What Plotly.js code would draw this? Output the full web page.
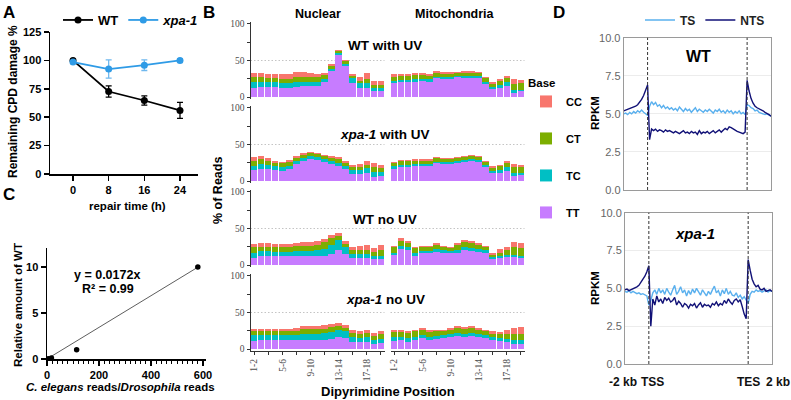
<!DOCTYPE html>
<html><head><meta charset="utf-8">
<script src="https://cdn.plot.ly/plotly-3.0.1.min.js"></script>
<style>html,body{margin:0;padding:0;background:#fff}#chart{width:791px;height:400px}</style>
</head><body><div id="chart"></div>
<script>
// ---------- Panel A data ----------
const repairTime = [0, 8, 16, 24];
const wtDamage = [100, 72.6, 64.7, 56];
const wtErr = [1, 5, 4, 7];
const xpaDamage = [98.5, 92.4, 95.8, 100];
const xpaErr = [1, 8, 4.7, 1.5];

// ---------- Panel C data ----------
const readRatio = [5, 17, 114, 580];
const relAmount = [0.02, 0.12, 1.0, 10.0];
const fitLineX = [0, 580];
const fitLineY = [0, 9.98];

// ---------- Panel B data ----------
const positions = ['1-2','2-3','3-4','4-5','5-6','6-7','7-8','8-9','9-10','10-11','11-12','12-13','13-14','14-15','15-16','16-17','17-18','18-19','19-20'];
const positionTickText = ['1-2','','5-6','','9-10','','13-14','','17-18',''];
const positionTickVals = ['1-2','3-4','5-6','7-8','9-10','11-12','13-14','15-16','17-18','19-20'];
const bases = ['TT','TC','CT','CC'];
const baseColors = {TT:'#C77CFF', TC:'#00BFC4', CT:'#7CAE00', CC:'#F8766D'};

const wtUV_nuc_TT = [13,14,14,14,13,13,14,15,15,15,21,35,57,42,19,13,13,8,8];
const wtUV_nuc_TC = [7,6,6,6,6,6,6,6,6,6,4,3,3,3,7,6,6,5,4];
const wtUV_nuc_CT = [7,7,6,6,6,6,7,7,6,6,5,5,3,4,3,3,6,4,5];
const wtUV_nuc_CC = [6,6.5,5.5,5,6,6,7,6,5.5,4.5,3.5,2,1.5,2,2.5,6,8,5.5,5];

const wtUV_mt_TT = [19,20,20,21,22,21,26,25,25,27,26,26,26,18,11,12,15,6,8];
const wtUV_mt_TC = [3,3,3,3,3,3,2,3,3,2,3,3,3,3,3,5,5,3,2];
const wtUV_mt_CT = [6,6,6,6,5,5,5,4,4,4,4,4,4,5,4,5,6,9,9];
const wtUV_mt_CC = [3,2.5,3,2.5,2.5,2.5,2,2,2,1.5,2,2,1.5,1.5,2,2.5,3,6,4];

const xpaUV_nuc_TT = [15,17,17,15,14,16,23,28,30,29,26,23,20,16,10,10,11,6,7];
const xpaUV_nuc_TC = [6,6,5,5,5,5,4,4,4,4,4,4,5,5,5,5,7,6,5];
const xpaUV_nuc_CT = [7,7,6,5,5,5,5,4,4,3.5,4,4,5,4,4,4,4,7,6];
const xpaUV_nuc_CC = [4.5,4,3,3,2.5,3,2.5,2.5,2,2,2,3,2.5,3,3.5,4.5,6,6,4];

const xpaUV_mt_TT = [17,19,19,20,20,21,24,23,23,24,26,27,26,19,11,11,14,7,8];
const xpaUV_mt_TC = [3,3,3,3,3,2.5,2.5,2.5,2.5,3,3,3,3,3,3,4,5,4,3];
const xpaUV_mt_CT = [5,5,5,5,4.5,4.5,4.5,4.5,4.5,4,4,4,4,4,4,5,5,8,8];
const xpaUV_mt_CC = [1.5,2,2,1.5,2,1.5,1.5,1.5,1.5,1.5,1,1,1,1,2,2,3,4.5,3];

const wtNo_nuc_TT = [10,12,12,12,12,12,12,12,12,12,12,15,20,15,9,9,9,8,8];
const wtNo_nuc_TC = [7,7,7,6.5,6.5,6.5,7,7,7.5,8,10,13,14,9,6,6,6,5,5];
const wtNo_nuc_CT = [7,6,6,6,6,6,6.5,7,7,8,9,9,6,5,5,5,6,5,8];
const wtNo_nuc_CC = [5,5.5,4.5,4,4,4,5,5,5.5,5.5,4.5,4,4.5,4,5,6.5,7,5.5,6.5];

const wtNo_mt_TT = [14,22,20,13,16,16,18,17,16,17,20,19,18,17,8,9,11,11,10];
const wtNo_mt_TC = [3,4,4,4,3,3,4,3,3,3,4,4,4,3,3,4,3,3,3];
const wtNo_mt_CT = [7,7,6,6,5,5,6,4,4,7,7,7,6,4,3,3,7,11,10];
const wtNo_mt_CC = [2,3.5,3,2,2,2,2.5,2,2,2.5,3,3,2.5,2,3,6.5,3,7,6.5];

const xpaNo_nuc_TT = [11,12,12,12,12,12,12,13,13,13,13,14,16,15,10,9,9,7,8];
const xpaNo_nuc_TC = [8,7,7,7,7,7,7,7,8,8,9,9,10,9,7,6,7,6,6];
const xpaNo_nuc_CT = [6,6,6,6,5.5,5,6,7,6,6,6,7,6,5,5,5,6,5,6];
const xpaNo_nuc_CC = [3,3,3,3,3.5,3,3.5,4,4,4,4.5,4,3.5,3.5,3.5,4,4.5,4,4];

const xpaNo_mt_TT = [11,12,10,12,15,13,14,15,16,18,17,18,17,15,12,11,9,7,7];
const xpaNo_mt_TC = [5,4,5,5,4,4,4,4,4,4,4,4,4,4,4,4,5,5,5];
const xpaNo_mt_CT = [7,7,7,7,7,6,6,5,6,7,6,7,5,5,5,5,7,9,9];
const xpaNo_mt_CC = [2.5,2.5,2.5,2.5,3,2.5,2.5,2.5,2.5,2.5,3,2.5,2.5,2.5,3,3,5,8,9];

const rowLabels = ['<b>WT with UV</b>', '<b><i>xpa-1</i> with UV</b>', '<b>WT no UV</b>', '<b><i>xpa-1</i> no UV</b>'];

// ---------- Panel D data (metagene bins: -2kb | TSS ... TES | +2kb) ----------
const metaTickVals = [0, 12, 62, 74];
const metaTickText = ['-2 kb', 'TSS', 'TES', '2 kb'];
const wtNTS = [5.2,5.25,5.3,5.3,5.35,5.4,5.5,5.6,5.75,5.95,6.2,6.55,6.9,
  3.3,4.0,3.9,4.0,3.85,3.95,3.9,3.8,3.95,3.85,
  3.9,3.8,3.75,3.85,3.8,3.7,3.8,3.9,3.75,3.8,
  3.7,3.85,3.75,3.8,3.65,3.9,3.7,3.8,3.75,3.85,
  3.7,3.8,3.9,3.75,3.85,3.95,3.8,3.9,4.05,3.95,
  4.15,4.1,4.0,3.9,3.85,3.8,3.75,3.7,3.8,
  7.2,
  6.5,6.0,5.7,5.5,5.4,5.35,5.25,5.2,5.1,5.05,4.95,4.85];
const wtTS = [5.0,5.05,4.95,5.1,5.0,5.15,5.05,5.2,5.1,5.25,5.1,5.0,4.9,
  5.5,5.8,5.6,5.75,5.5,5.6,5.4,5.55,5.35,5.45,
  5.3,5.4,5.25,5.35,5.2,5.45,5.3,5.15,5.35,5.2,
  5.3,5.1,5.25,5.4,5.15,5.3,5.2,5.1,5.25,5.15,
  5.3,5.2,5.05,5.25,5.15,5.3,5.1,5.2,5.05,5.25,
  5.1,5.2,5.0,5.15,5.05,5.2,5.0,5.1,4.95,
  5.6,
  5.55,5.4,5.35,5.2,5.25,5.1,5.05,5.0,4.95,5.0,4.9,4.85];
const xpaNTS = [4.9,4.95,4.85,4.9,5.0,5.05,5.1,5.2,5.4,5.6,5.8,6.1,6.5,
  2.5,4.3,3.9,4.5,4.1,4.3,4.0,4.4,4.2,4.35,
  4.1,4.2,4.4,3.9,4.15,4.0,3.75,4.0,3.9,3.7,
  3.95,3.85,4.0,3.7,3.9,4.05,3.75,3.95,3.85,3.9,
  3.75,4.0,3.9,4.1,3.85,4.0,3.9,4.2,4.0,4.3,
  4.1,3.95,4.2,4.3,4.1,4.25,3.8,3.3,3.0,
  6.9,
  6.2,5.6,5.3,5.1,5.2,4.95,4.9,5.0,4.8,4.85,4.9,4.8];
const xpaTS = [4.8,4.75,4.85,4.7,4.8,4.75,4.65,4.7,4.6,4.65,4.55,4.5,3.9,
  4.2,4.7,4.9,4.6,5.0,4.7,4.9,4.6,5.0,4.75,
  4.55,4.9,5.2,4.6,4.8,5.1,4.7,4.9,4.5,4.85,
  4.6,4.95,4.7,5.0,4.8,4.55,4.9,4.7,4.5,4.8,
  4.6,4.9,5.15,4.7,4.85,4.5,4.9,4.65,5.0,4.6,
  4.8,4.55,4.5,4.7,4.4,4.55,4.3,4.45,4.2,
  4.0,
  4.6,4.8,4.75,4.9,4.8,4.85,4.75,4.8,4.9,4.75,4.85,4.8];

// ---------- helpers ----------
const W = 791, H = 400;
const fx = p => p / W;
const fy = p => 1 - p / H;
const FONT = 'Liberation Sans, Arial, sans-serif';
const SERIF = 'Liberation Serif, Times New Roman, serif';
function ann(text, x, y, o) {
  o = o || {};
  return Object.assign({text, x: fx(x), y: fy(y), xref: 'paper', yref: 'paper',
    xanchor: 'center', yanchor: 'middle', showarrow: false,
    font: Object.assign({family: FONT, size: 12, color: '#000'}, o.font || {})},
    o.extra || {});
}

const traces = [];
const layout = {
  width: W, height: H, margin: {l: 0, r: 0, t: 0, b: 0},
  paper_bgcolor: '#fff', plot_bgcolor: 'rgba(0,0,0,0)',
  font: {family: FONT, color: '#000'},
  barmode: 'stack', bargap: 0.12, hovermode: false,
  annotations: [], shapes: []
};

// ---------- Panel A ----------
traces.push({type: 'scatter', mode: 'lines+markers', x: repairTime, y: wtDamage,
  name: '<b>WT</b>', legend: 'legend', xaxis: 'x', yaxis: 'y',
  line: {color: '#000', width: 1.8}, marker: {color: '#000', size: 7},
  error_y: {type: 'data', array: wtErr, color: '#000', thickness: 1.3, width: 3}});
traces.push({type: 'scatter', mode: 'lines+markers', x: repairTime, y: xpaDamage,
  name: '<b><i>xpa-1</i></b>', legend: 'legend', xaxis: 'x', yaxis: 'y',
  line: {color: '#2F9BE6', width: 1.8}, marker: {color: '#2F9BE6', size: 7},
  error_y: {type: 'data', array: xpaErr, color: '#6FB8EE', thickness: 1.3, width: 3}});
layout.xaxis = {domain: [fx(50), fx(198)], range: [-5.16, 28.04], tickvals: repairTime,
  ticks: 'outside', ticklen: 5, tickwidth: 1.5, tickcolor: '#000', showline: true, linewidth: 1.5,
  linecolor: '#000', showgrid: false, zeroline: false, anchor: 'y',
  tickfont: {size: 11, weight: 'bold', family: FONT}};
layout.yaxis = {domain: [fy(174), fy(32)], range: [0, 125], dtick: 25, tick0: 0,
  ticks: 'outside', ticklen: 5, tickwidth: 1.5, tickcolor: '#000', showline: true, linewidth: 1.5,
  linecolor: '#000', showgrid: false, zeroline: false, anchor: 'x',
  tickfont: {size: 11, weight: 'bold', family: FONT}};
layout.legend = {orientation: 'h', x: fx(58), y: fy(20), xanchor: 'left', yanchor: 'middle',
  font: {size: 13, family: FONT, color: '#000'}, bgcolor: 'rgba(0,0,0,0)', itemwidth: 30};
layout.annotations.push(ann('<b>Remaining CPD damage %</b>', 13, 102, {font: {size: 12}, extra: {textangle: -90}}));
layout.annotations.push(ann('<b>repair time (h)</b>', 127, 206, {font: {size: 11.5}}));

// ---------- Panel C ----------
traces.push({type: 'scatter', mode: 'lines', x: fitLineX, y: fitLineY, showlegend: false,
  xaxis: 'x2', yaxis: 'y2', line: {color: '#333', width: 0.8}});
traces.push({type: 'scatter', mode: 'markers', x: readRatio, y: relAmount, showlegend: false,
  xaxis: 'x2', yaxis: 'y2', marker: {color: '#000', size: 5.5}});
layout.xaxis2 = {domain: [fx(47), fx(205.6)], range: [0, 610], tick0: 0, dtick: 200,
  ticks: 'outside', ticklen: 5, tickwidth: 1.5, tickcolor: '#000', showline: true, linewidth: 1.5,
  linecolor: '#000', showgrid: false, zeroline: false, anchor: 'y2',
  minor: {dtick: 20, tick0: 0, ticks: 'outside', ticklen: 3, tickcolor: '#000', tickwidth: 1, showgrid: false},
  tickfont: {size: 11, weight: 'bold', family: FONT}};
layout.yaxis2 = {domain: [fy(359), fy(248)], range: [0, 12.07], tickvals: [0, 5, 10],
  ticks: 'outside', ticklen: 5, tickwidth: 1.5, tickcolor: '#000', showline: true, linewidth: 1.5,
  linecolor: '#000', showgrid: false, zeroline: false, anchor: 'x2',
  tickfont: {size: 11, weight: 'bold', family: FONT}};
layout.annotations.push(ann('<b>Relative amount of WT</b>', 18, 305, {font: {size: 11.5}, extra: {textangle: -90}}));
layout.annotations.push(ann('<i>C. elegans</i> reads/<i>Drosophila</i> reads', 120, 387, {font: {size: 11.5, weight: 'bold'}}));
layout.annotations.push(ann('<b>y = 0.0172x</b>', 107, 275, {font: {size: 12.5}}));
layout.annotations.push(ann('<b>R² = 0.99</b>', 108, 289, {font: {size: 12.5}}));

// ---------- Panel B ----------
const bData = [
  [{TT: wtUV_nuc_TT, TC: wtUV_nuc_TC, CT: wtUV_nuc_CT, CC: wtUV_nuc_CC}, {TT: wtUV_mt_TT, TC: wtUV_mt_TC, CT: wtUV_mt_CT, CC: wtUV_mt_CC}],
  [{TT: xpaUV_nuc_TT, TC: xpaUV_nuc_TC, CT: xpaUV_nuc_CT, CC: xpaUV_nuc_CC}, {TT: xpaUV_mt_TT, TC: xpaUV_mt_TC, CT: xpaUV_mt_CT, CC: xpaUV_mt_CC}],
  [{TT: wtNo_nuc_TT, TC: wtNo_nuc_TC, CT: wtNo_nuc_CT, CC: wtNo_nuc_CC}, {TT: wtNo_mt_TT, TC: wtNo_mt_TC, CT: wtNo_mt_CT, CC: wtNo_mt_CC}],
  [{TT: xpaNo_nuc_TT, TC: xpaNo_nuc_TC, CT: xpaNo_nuc_CT, CC: xpaNo_nuc_CC}, {TT: xpaNo_mt_TT, TC: xpaNo_mt_TC, CT: xpaNo_mt_CT, CC: xpaNo_mt_CC}]
];
const legendRank = {CC: 1, CT: 2, TC: 3, TT: 4};
const panelX = [[250.5, 384.5], [390.5, 524.5]];
for (let r = 0; r < 4; r++) {
  const top = 21.8 + 84 * r, bot = top + 77.4;
  for (let p = 0; p < 2; p++) {
    const n = 3 + r * 2 + p;
    const xa = 'x' + n, ya = 'y' + n;
    bases.forEach(b => {
      traces.push({type: 'bar', x: positions, y: bData[r][p][b], name: '<b>' + b + '</b>',
        legend: 'legend3', legendgroup: b, legendrank: legendRank[b],
        showlegend: (r === 0 && p === 0), xaxis: xa, yaxis: ya,
        marker: {color: baseColors[b], line: {width: 0}}});
    });
    const bottom = (r === 3);
    layout['xaxis' + n] = {domain: [fx(panelX[p][0]), fx(panelX[p][1])], type: 'category',
      categoryorder: 'array', categoryarray: positions, range: [-0.55, 18.55], anchor: ya,
      showgrid: false, zeroline: false, showline: bottom, linecolor: '#333', linewidth: 1,
      ticks: bottom ? 'outside' : '', ticklen: 3, tickcolor: '#333', showticklabels: bottom,
      tickvals: positionTickVals, ticktext: positionTickText, tickangle: -90,
      tickfont: {family: SERIF, size: 9.5, color: '#4d4d4d'}};
    layout['yaxis' + n] = {domain: [fy(bot), fy(top)], range: [-3, 103], anchor: xa,
      showgrid: false, zeroline: false,
      showline: p === 0, linecolor: '#333', linewidth: 1,
      ticks: p === 0 ? 'outside' : '', ticklen: 3, tickcolor: '#333', showticklabels: p === 0,
      tickvals: [0, 25, 50, 75, 100], ticktext: ['0', '', '50', '', '100'],
      tickfont: {family: SERIF, size: 9.5, color: '#4d4d4d'}};
    layout.shapes.push({type: 'line', xref: xa + ' domain', yref: ya, x0: 0, x1: 1, y0: 50, y1: 50,
      layer: 'below', line: {color: '#b5b5b5', width: 0.8, dash: '1.5px,2px'}});
  }
}
layout.legend3 = {x: fx(526), y: fy(72), xanchor: 'left', yanchor: 'top', traceorder: 'grouped',
  tracegroupgap: 18, title: {text: '<b>Base</b>', font: {size: 11.5, family: FONT}},
  font: {size: 11, family: FONT, color: '#000'}, bgcolor: 'rgba(0,0,0,0)', itemwidth: 30};
layout.annotations.push(ann('<b>Nuclear</b>', 318, 14, {font: {size: 12.5}}));
layout.annotations.push(ann('<b>Mitochondria</b>', 455, 14, {font: {size: 12.5}}));
const stripY = [45, 134, 219, 299];
rowLabels.forEach((t, i) => layout.annotations.push(ann(t, 385, stripY[i], {font: {size: 13.5}})));
layout.annotations.push(ann('<b>% of Reads</b>', 218, 190, {font: {size: 12.5}, extra: {textangle: -90}}));
layout.annotations.push(ann('<b>Dipyrimidine Position</b>', 388, 391, {font: {size: 13}}));

// ---------- Panel D ----------
const dPanels = [
  {n: 11, ts: wtTS, nts: wtNTS, xd: [623.7, 771], yd: [190, 37.7]},
  {n: 12, ts: xpaTS, nts: xpaNTS, xd: [625, 772], yd: [364, 212.7]}
];
dPanels.forEach((d, i) => {
  const xa = 'x' + d.n, ya = 'y' + d.n;
  traces.push({type: 'scatter', mode: 'lines', y: d.ts, name: '<b>TS</b>', legend: 'legend2',
    showlegend: i === 0, xaxis: xa, yaxis: ya, line: {color: '#5AB0EE', width: 1.4}});
  traces.push({type: 'scatter', mode: 'lines', y: d.nts, name: '<b>NTS</b>', legend: 'legend2',
    showlegend: i === 0, xaxis: xa, yaxis: ya, line: {color: '#111177', width: 1.4}});
  layout['xaxis' + d.n] = {domain: [fx(d.xd[0]), fx(d.xd[1])], range: [0, 74], anchor: ya,
    showline: true, mirror: true, linecolor: '#9a9a9a', linewidth: 1, showgrid: false, zeroline: false,
    ticks: '', showticklabels: false, tickvals: metaTickVals};
  layout['yaxis' + d.n] = {domain: [fy(d.yd[0]), fy(d.yd[1])], range: [0, 10], anchor: xa,
    showline: true, mirror: true, linecolor: '#9a9a9a', linewidth: 1, showgrid: true, gridcolor: '#ececec',
    zeroline: false, ticks: '', tickvals: [0, 2.5, 5, 7.5, 10], ticktext: ['0.0', '2.5', '5.0', '7.5', '10.0'],
    tickfont: {size: 11, family: FONT, color: '#666'}};
  [12, 62].forEach(v => layout.shapes.push({type: 'line', xref: xa, yref: ya + ' domain', x0: v, x1: v, y0: 0, y1: 1,
    line: {color: '#333', width: 1, dash: '3px,2px'}}));
});
// x labels of the bottom metagene panel, placed on its x scale
const metaShift = [-2, 4, 0, 6];
metaTickVals.forEach((v, i) => layout.annotations.push({text: '<b>' + metaTickText[i] + '</b>',
  x: v, xref: 'x12', y: fy(382), yref: 'paper', xshift: metaShift[i], showarrow: false,
  xanchor: 'center', yanchor: 'middle', font: {family: FONT, size: 12, color: '#111'}}));
layout.legend2 = {orientation: 'h', x: fx(640), y: fy(20), xanchor: 'left', yanchor: 'middle',
  font: {size: 12, family: FONT, color: '#222'}, bgcolor: 'rgba(0,0,0,0)', itemwidth: 30};
layout.annotations.push(ann('<b>WT</b>', 698, 57, {font: {size: 16}}));
layout.annotations.push(ann('<b><i>xpa-1</i></b>', 695, 233, {font: {size: 15}}));
layout.annotations.push(ann('<b>RPKM</b>', 595, 113, {font: {size: 11.5}, extra: {textangle: -90}}));
layout.annotations.push(ann('<b>RPKM</b>', 595, 288, {font: {size: 11.5}, extra: {textangle: -90}}));

// ---------- panel letters ----------
layout.annotations.push(ann('<b>A</b>', 9, 13, {font: {size: 17}}));
layout.annotations.push(ann('<b>B</b>', 209, 13, {font: {size: 17}}));
layout.annotations.push(ann('<b>C</b>', 9, 194, {font: {size: 17}}));
layout.annotations.push(ann('<b>D</b>', 559, 13, {font: {size: 17}}));

Plotly.newPlot('chart', traces, layout, {staticPlot: true, displayModeBar: false});
</script></body></html>
